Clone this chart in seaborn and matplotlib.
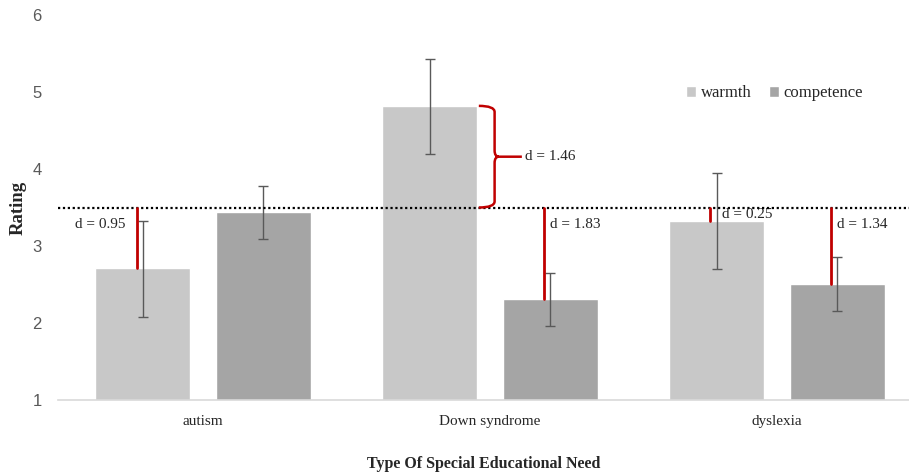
import numpy as np
import pandas as pd
import seaborn as sns
import matplotlib.pyplot as plt
from matplotlib.path import Path
from matplotlib.patches import PathPatch

# values
needs = ["autism", "Down syndrome", "dyslexia"]
traits = ["warmth", "competence"]
warmth = [2.71, 4.82, 3.32]
competence = [3.44, 2.31, 2.51]
warmth_low = [2.08, 4.19, 2.70]
warmth_high = [3.32, 5.43, 3.95]
competence_low = [3.09, 1.96, 2.16]
competence_high = [3.78, 2.65, 2.86]
midpoint = 3.5
d_labels = {("autism", "warmth"): "d = 0.95",
            ("Down syndrome", "warmth"): "d = 1.46",
            ("Down syndrome", "competence"): "d = 1.83",
            ("dyslexia", "warmth"): "d = 0.25",
            ("dyslexia", "competence"): "d = 1.34"}

df = pd.DataFrame({
    "need": needs * 2,
    "trait": ["warmth"] * 3 + ["competence"] * 3,
    "rating": warmth + competence,
    "low": warmth_low + competence_low,
    "high": warmth_high + competence_high,
})

sns.set_style("white")
plt.rcParams["font.family"] = ["Liberation Serif", "DejaVu Serif"]

fig = plt.figure(figsize=(9.09, 4.72), dpi=100)
ax = fig.add_axes([0.064, 0.1525, 0.936, 0.8157])

sns.barplot(data=df, x="need", y="rating", hue="trait", order=needs,
            hue_order=traits, palette=["#C8C8C8", "#A5A5A5"],
            width=0.84, gap=0.21, errorbar=None, ax=ax, saturation=1)

# error bars and d markers, placed at bar centres
for cont, trait in zip(ax.containers, traits):
    for bar, need in zip(cont, needs):
        row = df[(df.need == need) & (df.trait == trait)].iloc[0]
        cx = bar.get_x() + bar.get_width() / 2
        ax.errorbar(cx, row.rating,
                    yerr=[[row.rating - row.low], [row.high - row.rating]],
                    color="#595959", lw=1, capsize=3.6, capthick=1)
        lab = d_labels.get((need, trait))
        if lab is None:
            continue
        if need == "Down syndrome" and trait == "warmth":
            # curly brace to the right of the bar
            x0 = bar.get_x() + bar.get_width() + 0.005
            xv = x0 + 0.055
            xt = x0 + 0.15
            top, bot = row.rating, midpoint
            mid = (top + bot) / 2
            ry = 0.08
            verts = [(x0, top), (xv, top), (xv, top - ry),
                     (xv, mid + ry), (xv, mid), (xv + 0.015, mid), (xt, mid),
                     (xv + 0.015, mid), (xv, mid), (xv, mid - ry),
                     (xv, bot + ry), (xv, bot), (x0, bot)]
            codes = [Path.MOVETO, Path.CURVE3, Path.CURVE3,
                     Path.LINETO, Path.CURVE3, Path.CURVE3, Path.LINETO,
                     Path.MOVETO, Path.CURVE3, Path.CURVE3,
                     Path.LINETO, Path.CURVE3, Path.CURVE3]
            ax.add_patch(PathPatch(Path(verts, codes), fc="none",
                                   ec="#C00000", lw=1.8, zorder=5))
            ax.text(xt + 0.012, mid, lab, fontsize=11, va="center",
                    ha="left")
        else:
            lx = cx - 0.022
            ax.plot([lx, lx], [midpoint, row.rating], color="#C00000",
                    lw=2, zorder=5)
            if need == "autism":
                ax.text(lx - 0.04, midpoint - 0.22, lab, fontsize=11,
                        ha="right", va="center")
            elif need == "dyslexia" and trait == "warmth":
                ax.text(lx + 0.04, midpoint - 0.09, lab, fontsize=11,
                        ha="left", va="center")
            else:
                ax.text(lx + 0.022, midpoint - 0.22, lab, fontsize=11,
                        ha="left", va="center")

ax.axhline(midpoint, color="black", ls=(0, (1, 1.2)), lw=1.6, zorder=4)

ax.set_ylim(1, 6)
ax.set_xlim(-0.505, 2.46)
ax.set_yticks(range(1, 7))
ax.tick_params(axis="y", length=0, pad=12, labelsize=12,
               labelcolor="#595959")
ax.tick_params(axis="x", length=0, pad=11, labelsize=11,
               labelcolor="#262626")
for lbl in ax.get_yticklabels():
    lbl.set_fontfamily(["Liberation Sans", "DejaVu Sans"])
sns.despine(ax=ax, left=True)
ax.spines["bottom"].set_color("#D9D9D9")
ax.spines["bottom"].set_linewidth(1.2)

ax.set_ylabel("Rating", fontsize=13.5, fontweight="bold", labelpad=4)
ax.set_xlabel("Type Of Special Educational Need", fontsize=11.5,
              fontweight="bold", labelpad=20)

ax.legend(loc="center", bbox_to_anchor=(0.842, 0.797), ncol=2,
          frameon=False, fontsize=12, handlelength=0.6, handleheight=0.6,
          handletextpad=0.3, columnspacing=1.0)

fig.savefig("out.png", dpi=100)
